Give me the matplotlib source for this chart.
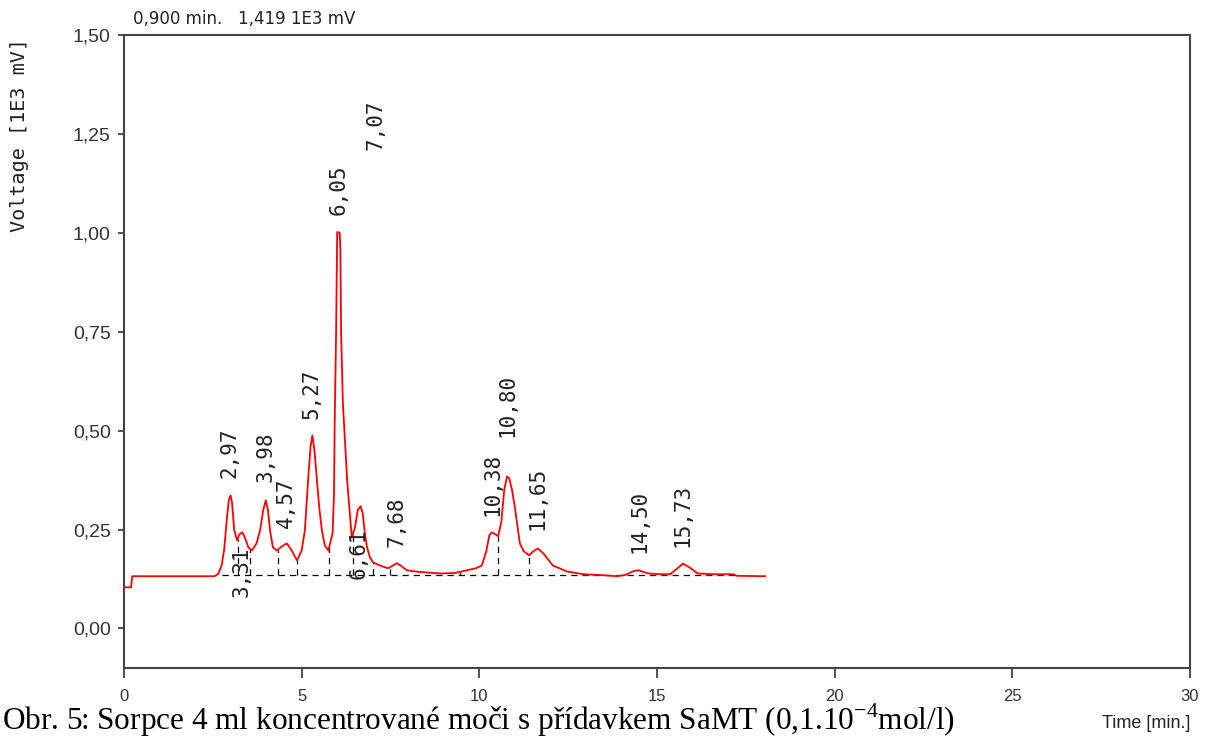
import numpy as np
import matplotlib
matplotlib.use('Agg')
import matplotlib.pyplot as plt

# chromatogram trace (time in min, voltage in 1E3 mV)
time_min = [0.00, 0.20, 0.23, 0.50, 2.55, 2.65, 2.75, 2.82, 2.89, 2.95,
            3.00, 3.04, 3.10, 3.18, 3.25, 3.33, 3.40, 3.50, 3.60, 3.73,
            3.83, 3.92, 3.99, 4.05, 4.11, 4.19, 4.30, 4.45, 4.58, 4.70,
            4.87, 5.00, 5.09, 5.18, 5.25, 5.30, 5.36, 5.43, 5.50, 5.57,
            5.65, 5.75, 5.87, 5.91, 5.93, 5.97, 6.00, 6.07, 6.09, 6.11,
            6.16, 6.28, 6.41, 6.50, 6.58, 6.66, 6.72, 6.78, 6.84, 6.92,
            7.01, 7.20, 7.43, 7.55, 7.68, 7.80, 7.96, 8.30, 8.89, 9.30,
            9.65, 9.90, 10.07, 10.20, 10.28, 10.35, 10.45, 10.53, 10.62, 10.70,
            10.78, 10.84, 10.92, 11.00, 11.14, 11.25, 11.40, 11.52, 11.65, 11.80,
            12.07, 12.47, 12.92, 13.40, 13.87, 14.10, 14.35, 14.49, 14.62, 14.75,
            15.10, 15.37, 15.55, 15.73, 15.90, 16.15, 16.60, 17.14, 17.25, 18.04]
voltage = [0.104, 0.104, 0.132, 0.132, 0.132, 0.138, 0.160, 0.200, 0.273, 0.325,
           0.336, 0.318, 0.250, 0.223, 0.238, 0.243, 0.230, 0.205, 0.197, 0.215,
           0.248, 0.300, 0.324, 0.300, 0.248, 0.205, 0.197, 0.208, 0.215, 0.200,
           0.172, 0.197, 0.248, 0.374, 0.460, 0.488, 0.450, 0.374, 0.300, 0.248,
           0.210, 0.197, 0.240, 0.340, 0.526, 0.754, 1.002, 1.000, 0.956, 0.746,
           0.569, 0.374, 0.230, 0.255, 0.300, 0.309, 0.290, 0.240, 0.205, 0.180,
           0.167, 0.159, 0.152, 0.158, 0.165, 0.158, 0.147, 0.143, 0.139, 0.140,
           0.147, 0.152, 0.159, 0.197, 0.235, 0.243, 0.238, 0.233, 0.270, 0.350,
           0.384, 0.380, 0.350, 0.306, 0.215, 0.195, 0.185, 0.195, 0.202, 0.190,
           0.159, 0.144, 0.137, 0.135, 0.132, 0.135, 0.145, 0.147, 0.143, 0.139,
           0.137, 0.137, 0.150, 0.164, 0.155, 0.139, 0.137, 0.137, 0.133, 0.132]

# integration baseline and drop lines
base_level = 0.134
base_start = 2.75
base_end = 17.2
drop_times = [3.20, 3.55, 4.32, 4.87, 5.78, 6.45, 7.00, 7.48, 9.45, 10.53, 11.40]

# peak retention times and where their labels sit
peak_times = [2.97, 3.31, 3.98, 4.57, 5.27, 6.05, 6.61, 7.07, 7.68,
              10.38, 10.80, 11.65, 14.50, 15.73]
label_y = [0.38, 0.08, 0.37, 0.255, 0.53, 1.045, 0.125, 1.21, 0.205,
           0.285, 0.483, 0.248, 0.19, 0.205]

x_ticks = [0, 5, 10, 15, 20, 25, 30]
x_ticklabels = ['0', '5', '10', '15', '20', '25', '30']
y_ticks = [0.0, 0.25, 0.5, 0.75, 1.0, 1.25, 1.5]
y_ticklabels = ['0,00', '0,25', '0,50', '0,75', '1,00', '1,25', '1,50']

W, H = 1208, 738
fig = plt.figure(figsize=(W / 100, H / 100), dpi=100)
ax = fig.add_axes([124 / W, 1 - 668 / H, 1066 / W, 633 / H])

ax.plot(time_min, voltage, color='red', lw=1.3, zorder=3)
ax.plot([base_start, base_end], [base_level, base_level], color='black', lw=0.9, dashes=(5, 4))
for t in drop_times:
    top = np.interp(t, time_min, voltage)
    ax.plot([t, t], [base_level, top], color='black', lw=0.9, dashes=(5, 4))

for t, y in zip(peak_times, label_y):
    lab = f"{t:.2f}".replace('.', ',')
    ax.text(t, y, lab, rotation=90, ha='center', va='bottom',
            family='DejaVu Sans Mono', fontsize=15, color='#222222')

ax.set_xlim(0, 30)
ax.set_ylim(-0.1, 1.5)
ax.set_xticks(x_ticks)
ax.set_xticklabels(x_ticklabels, family='Liberation Sans', fontsize=12)
ax.set_yticks(y_ticks)
ax.set_yticklabels(y_ticklabels, family='Liberation Sans', fontsize=14)
ax.tick_params(axis='x', direction='out', length=7, width=1.2, pad=8, colors='#333333')
ax.tick_params(axis='y', direction='out', length=4.5, width=1.2, pad=5, colors='#333333')
for s in ax.spines.values():
    s.set_color('#444444')
    s.set_linewidth(1.5)

fig.text(20 / W, 1 - 135 / H, 'Voltage [1E3 mV]', rotation=90, ha='center', va='center',
         family='DejaVu Sans Mono', fontsize=14.5, color='#222222')
fig.text(133 / W, 1 - 19 / H, '0,900 min.   1,419 1E3 mV', ha='left', va='center',
         family='DejaVu Sans', fontsize=12, color='#222222')
fig.text(1190 / W, 1 - 723 / H, 'Time [min.]', ha='right', va='center',
         family='Liberation Sans', fontsize=13, color='#222222')

# figure caption along the bottom edge
fig.text(2 / W, 1 - 730 / H,
         r'Obr. 5: Sorpce 4 ml koncentrované moči s přídavkem SaMT (0,1.10$^{\mathregular{-4}}$mol/l)',
         ha='left', va='baseline', family='Liberation Serif', fontsize=22.5, color='black')

fig.savefig('out.png', dpi=100)
